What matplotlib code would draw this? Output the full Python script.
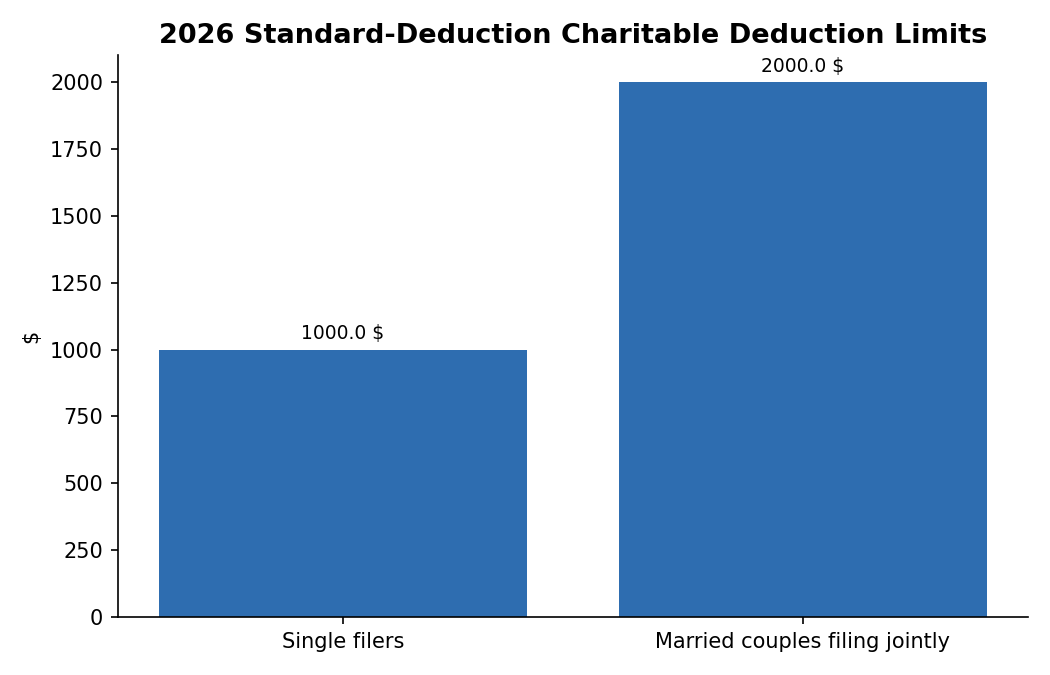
import matplotlib
matplotlib.use("Agg")
import matplotlib.pyplot as plt

categories = ["Single filers", "Married couples filing jointly"]
limits = [1000.0, 2000.0]

fig, ax = plt.subplots(figsize=(7, 4.5), dpi=150)
bars = ax.bar(categories, limits, color="#2e6db0", width=0.8)

for b, v in zip(bars, limits):
    ax.annotate(f"{v:.1f} $", (b.get_x() + b.get_width() / 2, v),
                xytext=(0, 3), textcoords="offset points",
                ha="center", va="bottom", fontsize=9)

ax.set_title("2026 Standard-Deduction Charitable Deduction Limits",
             fontsize=13, fontweight="bold")
ax.set_ylabel("$", fontsize=10)
ax.set_ylim(0, 2100)
ax.set_yticks(range(0, 2001, 250))
ax.tick_params(labelsize=10)
ax.spines["top"].set_visible(False)
ax.spines["right"].set_visible(False)

fig.subplots_adjust(left=0.112, right=0.979, top=0.918, bottom=0.086)
fig.savefig("out.png", dpi=150)
